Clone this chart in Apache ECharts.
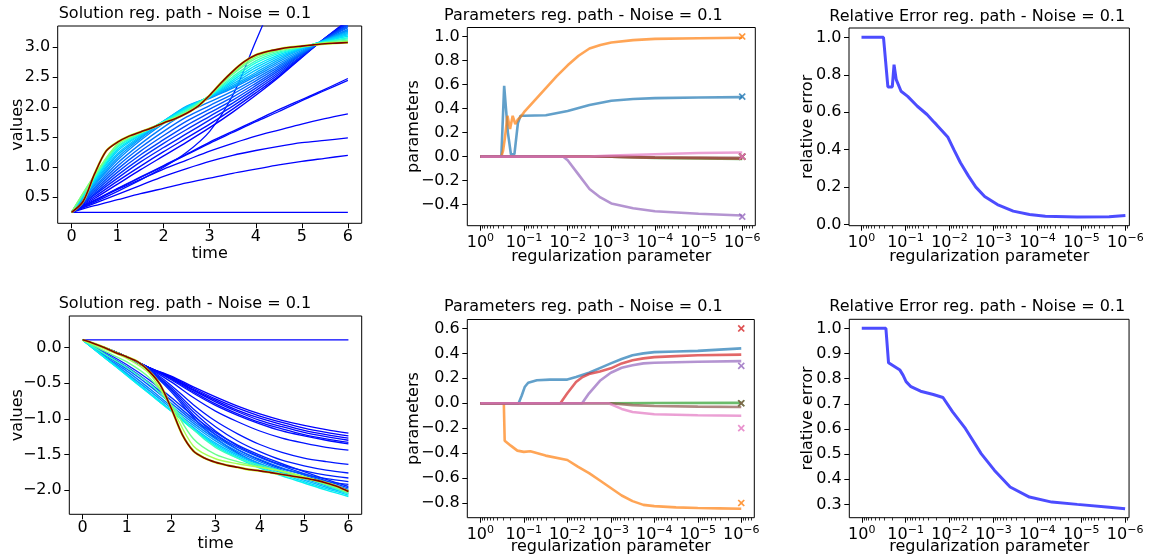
<!DOCTYPE html>
<html>
<head>
<meta charset="utf-8">
<script src="https://cdn.jsdelivr.net/npm/echarts@6/dist/echarts.min.js"></script>
<style>
html,body{margin:0;padding:0;background:#fff;}
#chart{width:1158px;height:558px;}
</style>
</head>
<body>
<div id="chart"></div>
<script>
// ---------------- DATA ----------------
const tHalf = [0,0.5,1,1.5,2,2.5,3,3.5,4,4.5,5,5.5,6];
const tQuarter = [0,0.25,0.5,0.75,1,1.25,1.5,1.75,2,2.25,2.5,2.75,3,3.25,3.5,3.75,4,4.25,4.5,4.75,5,5.25,5.5,5.75,6];
const timeTicks = [0,1,2,3,4,5,6];

// Top-left solution paths
const solTopFinal = [0.25,0.43,0.89,1.27,1.42,1.52,1.59,1.66,1.74,1.81,1.90,2.02,2.20,2.41,2.60,2.76,2.87,2.93,2.97,3.00,3.02,3.04,3.06,3.07,3.08];
const solTopBlue = [
  [0.25,0.25,0.25,0.25,0.25,0.25,0.25,0.25,0.25,0.25,0.25,0.25,0.25],
  [0.25,0.36,0.46,0.56,0.65,0.74,0.82,0.90,0.97,1.04,1.10,1.15,1.20],
  [0.25,0.40,0.55,0.70,0.85,0.98,1.10,1.20,1.28,1.35,1.41,1.45,1.49],
  [0.25,0.44,0.63,0.80,0.97,1.12,1.27,1.40,1.52,1.62,1.72,1.81,1.89],
  [0.25,0.45,0.65,0.84,1.03,1.22,1.42,1.60,1.78,1.96,2.13,2.30,2.48],
  [0.25,0.45,0.64,0.83,1.02,1.21,1.40,1.58,1.76,1.93,2.11,2.28,2.45],
  [0.25,0.42,0.60,0.79,1.00,1.25,1.60,2.20,3.10,4.00]
];
const solTopFan = [
  [0.25,0.48,0.72,0.96,1.19,1.42,1.66,1.92,2.20,2.50,2.83,3.15,3.45],
  [0.25,0.51,0.77,1.02,1.26,1.49,1.72,1.97,2.24,2.52,2.84,3.15,3.43],
  [0.25,0.54,0.82,1.09,1.33,1.56,1.79,2.02,2.28,2.55,2.85,3.15,3.41],
  [0.25,0.56,0.87,1.15,1.40,1.63,1.85,2.07,2.32,2.58,2.86,3.14,3.39],
  [0.25,0.59,0.92,1.21,1.46,1.70,1.91,2.12,2.36,2.61,2.88,3.14,3.37],
  [0.25,0.62,0.97,1.27,1.53,1.77,1.97,2.17,2.40,2.64,2.89,3.13,3.35],
  [0.25,0.65,1.02,1.33,1.60,1.84,2.03,2.22,2.44,2.67,2.90,3.13,3.33],
  [0.25,0.67,1.07,1.39,1.67,1.91,2.09,2.27,2.48,2.70,2.91,3.12,3.30],
  [0.25,0.70,1.12,1.45,1.73,1.98,2.15,2.32,2.52,2.73,2.93,3.12,3.28],
  [0.25,0.72,1.16,1.48,1.75,2.00,2.16,2.34,2.55,2.76,2.95,3.12,3.27],
  [0.25,0.74,1.20,1.50,1.77,2.02,2.17,2.36,2.58,2.79,2.97,3.12,3.25],
  [0.25,0.76,1.23,1.52,1.77,2.01,2.175,2.39,2.62,2.82,2.98,3.11,3.23],
  [0.25,0.78,1.27,1.54,1.77,2.00,2.18,2.42,2.66,2.85,2.99,3.11,3.21],
  [0.25,0.80,1.30,1.55,1.765,1.985,2.185,2.45,2.70,2.875,2.995,3.10,3.185],
  [0.25,0.82,1.33,1.56,1.76,1.97,2.19,2.48,2.74,2.90,3.00,3.09,3.16],
  [0.25,0.84,1.35,1.57,1.755,1.95,2.195,2.51,2.775,2.92,3.005,3.085,3.14],
  [0.25,0.86,1.38,1.58,1.75,1.93,2.20,2.55,2.81,2.94,3.01,3.08,3.12],
  [0.25,0.87,1.39,1.585,1.745,1.92,2.20,2.57,2.84,2.955,3.015,3.07,3.10]
];
const solTopYTicks = [0.5,1.0,1.5,2.0,2.5,3.0];

// Bottom-left solution paths
const solBotFinal = [0.11,0.06,0.0,-0.07,-0.13,-0.20,-0.33,-0.52,-0.85,-1.22,-1.45,-1.55,-1.61,-1.65,-1.68,-1.71,-1.73,-1.755,-1.78,-1.805,-1.83,-1.86,-1.90,-1.95,-2.02];
const solBotBlue = [
  [0.11,0.11,0.11,0.11,0.11,0.11,0.11,0.11,0.11,0.11,0.11,0.11,0.11],
  [0.11,0.0,-0.13,-0.28,-0.40,-0.55,-0.69,-0.82,-0.93,-1.02,-1.09,-1.15,-1.20],
  [0.11,0.0,-0.13,-0.28,-0.41,-0.57,-0.72,-0.85,-0.96,-1.05,-1.13,-1.19,-1.24],
  [0.11,0.0,-0.13,-0.28,-0.42,-0.59,-0.74,-0.88,-0.99,-1.08,-1.16,-1.22,-1.27],
  [0.11,0.0,-0.13,-0.28,-0.43,-0.60,-0.76,-0.90,-1.02,-1.11,-1.19,-1.25,-1.30],
  [0.11,0.0,-0.13,-0.28,-0.44,-0.62,-0.79,-0.93,-1.05,-1.14,-1.22,-1.28,-1.33],
  [0.11,0.0,-0.13,-0.28,-0.45,-0.64,-0.81,-0.95,-1.07,-1.17,-1.24,-1.30,-1.35],
  [0.11,0.0,-0.13,-0.29,-0.48,-0.70,-0.89,-1.04,-1.17,-1.27,-1.34,-1.40,-1.44],
  [0.11,0.0,-0.13,-0.30,-0.53,-0.80,-1.03,-1.21,-1.36,-1.47,-1.55,-1.60,-1.64],
  [0.11,0.0,-0.13,-0.31,-0.56,-0.86,-1.11,-1.31,-1.46,-1.58,-1.66,-1.72,-1.76],
  [0.11,0.0,-0.13,-0.31,-0.58,-0.90,-1.17,-1.38,-1.53,-1.65,-1.73,-1.79,-1.83],
  [0.11,0.0,-0.13,-0.32,-0.60,-0.94,-1.22,-1.43,-1.58,-1.70,-1.78,-1.84,-1.88],
  [0.11,0.0,-0.13,-0.32,-0.62,-0.98,-1.27,-1.48,-1.63,-1.74,-1.82,-1.88,-1.92]
];
const solBotFan = [
  [0.11,-0.06,-0.24,-0.45,-0.70,-0.96,-1.19,-1.37,-1.51,-1.63,-1.74,-1.85,-1.95],
  [0.11,-0.08,-0.27,-0.49,-0.74,-1.00,-1.22,-1.40,-1.54,-1.66,-1.77,-1.87,-1.97],
  [0.11,-0.10,-0.30,-0.53,-0.78,-1.03,-1.25,-1.43,-1.57,-1.69,-1.79,-1.89,-1.99],
  [0.11,-0.12,-0.33,-0.57,-0.82,-1.06,-1.28,-1.46,-1.60,-1.72,-1.82,-1.92,-2.01],
  [0.11,-0.13,-0.36,-0.60,-0.85,-1.09,-1.31,-1.49,-1.63,-1.74,-1.84,-1.94,-2.03],
  [0.11,-0.14,-0.38,-0.63,-0.88,-1.12,-1.34,-1.51,-1.65,-1.76,-1.86,-1.96,-2.05],
  [0.11,-0.14,-0.39,-0.64,-0.89,-1.14,-1.36,-1.53,-1.67,-1.78,-1.88,-1.98,-2.07],
  [0.11,-0.14,-0.39,-0.64,-0.89,-1.15,-1.38,-1.55,-1.69,-1.80,-1.90,-2.00,-2.09],
  [0.11,-0.09,-0.28,-0.50,-0.80,-1.15,-1.40,-1.55,-1.65,-1.73,-1.82,-1.93,-2.05],
  [0.11,-0.05,-0.20,-0.42,-0.80,-1.28,-1.50,-1.60,-1.67,-1.74,-1.82,-1.92,-2.03],
  [0.11,-0.02,-0.15,-0.36,-0.83,-1.38,-1.56,-1.63,-1.68,-1.735,-1.81,-1.90,-2.01]
];
const solBotYTicks = [-2.0,-1.5,-1.0,-0.5,0.0];

// Regularization parameter axis (log10 of lambda)
const regTicks = [0,-1,-2,-3,-4,-5,-6];

// Parameter paths, top: [log10(lambda), value]
const parTopBlue   = [[0,0],[-0.48,0],[-0.545,0.59],[-0.63,0.2],[-0.7,0.02],[-0.78,0.02],[-0.86,0.28],[-0.92,0.34],[-1.0,0.34],[-1.5,0.345],[-2.0,0.38],[-2.5,0.43],[-3.0,0.465],[-3.5,0.48],[-4.0,0.487],[-5.0,0.492],[-6.0,0.495]];
const parTopOrange = [[0,0],[-0.48,0],[-0.52,0.05],[-0.56,0.15],[-0.62,0.34],[-0.68,0.23],[-0.74,0.34],[-0.8,0.27],[-0.86,0.31],[-0.92,0.33],[-1.0,0.37],[-1.25,0.47],[-1.5,0.57],[-1.75,0.67],[-2.0,0.76],[-2.25,0.84],[-2.5,0.9],[-2.75,0.93],[-3.0,0.95],[-3.5,0.97],[-4.0,0.98],[-5.0,0.985],[-6.0,0.99]];
const parTopGreen  = [[0,0],[-3,0],[-4,-0.01],[-6,-0.02]];
const parTopRed    = [[0,0],[-3,0],[-4,-0.008],[-6,-0.015]];
const parTopPurple = [[0,0],[-1.9,0],[-2.0,-0.03],[-2.25,-0.15],[-2.5,-0.27],[-2.75,-0.34],[-3.0,-0.39],[-3.5,-0.43],[-4.0,-0.455],[-5.0,-0.475],[-6.0,-0.49]];
const parTopBrown  = [[0,0],[-3,0],[-4,-0.006],[-6,-0.01]];
const parTopPink   = [[0,0],[-2.5,0],[-3,0.008],[-4,0.02],[-5,0.03],[-6,0.035]];
const parTopTrue   = [0.5,1.0,0.0,0.0,-0.5,0.0,0.0];
const parTopYTicks = [-0.4,-0.2,0.0,0.2,0.4,0.6,0.8,1.0];

// Parameter paths, bottom
const parBotBlue   = [[0,0],[-0.88,0],[-0.95,0.06],[-1.02,0.13],[-1.1,0.165],[-1.3,0.185],[-1.6,0.19],[-2.0,0.19],[-2.2,0.21],[-2.5,0.245],[-2.8,0.29],[-3.0,0.32],[-3.25,0.355],[-3.5,0.385],[-3.75,0.40],[-4.0,0.41],[-4.5,0.415],[-5.0,0.42],[-5.5,0.43],[-6.0,0.44]];
const parBotOrange = [[0,0],[-0.54,0],[-0.56,-0.3],[-0.7,-0.34],[-0.85,-0.38],[-1.0,-0.39],[-1.15,-0.385],[-1.5,-0.42],[-2.0,-0.455],[-2.25,-0.51],[-2.5,-0.56],[-2.75,-0.62],[-3.0,-0.68],[-3.25,-0.74],[-3.5,-0.785],[-3.75,-0.815],[-4.0,-0.825],[-4.5,-0.835],[-5.0,-0.84],[-5.5,-0.843],[-6.0,-0.846]];
const parBotGreen  = [[0,0],[-3,0],[-4,0.002],[-6,0.003]];
const parBotRed    = [[0,0],[-1.84,0],[-2.0,0.08],[-2.2,0.17],[-2.35,0.21],[-2.5,0.235],[-2.75,0.255],[-3.0,0.28],[-3.25,0.32],[-3.5,0.345],[-3.75,0.36],[-4.0,0.37],[-4.5,0.378],[-5.0,0.385],[-6.0,0.39]];
const parBotPurple = [[0,0],[-2.34,0],[-2.5,0.08],[-2.75,0.18],[-3.0,0.245],[-3.25,0.285],[-3.5,0.305],[-3.75,0.32],[-4.0,0.325],[-5.0,0.333],[-6.0,0.338]];
const parBotBrown  = [[0,0],[-3,0],[-3.5,-0.015],[-4,-0.022],[-5,-0.027],[-6,-0.03]];
const parBotPink   = [[0,0],[-2.95,0],[-3.25,-0.045],[-3.5,-0.07],[-4,-0.088],[-5,-0.096],[-6,-0.1]];
const parBotTrue   = [null,-0.8,0.0,0.6,0.3,0.0,-0.2];
const parBotYTicks = [-0.8,-0.6,-0.4,-0.2,0.0,0.2,0.4,0.6];

// Relative error paths
const errTop = [[0,1.0],[-0.5,1.0],[-0.6,0.735],[-0.7,0.735],[-0.74,0.854],[-0.79,0.774],[-0.9,0.712],[-1.05,0.685],[-1.27,0.632],[-1.49,0.588],[-1.63,0.552],[-1.7,0.535],[-1.96,0.468],[-2.1,0.40],[-2.25,0.33],[-2.43,0.26],[-2.6,0.20],[-2.8,0.15],[-3.09,0.107],[-3.45,0.072],[-3.82,0.054],[-4.18,0.045],[-4.9,0.04],[-5.63,0.042],[-6.0,0.049]];
const errTopYTicks = [0.0,0.2,0.4,0.6,0.8,1.0];
const errBot = [[0,1.0],[-0.55,1.0],[-0.61,0.863],[-0.87,0.834],[-0.94,0.814],[-1.01,0.788],[-1.12,0.768],[-1.34,0.75],[-1.63,0.737],[-1.85,0.725],[-2.07,0.668],[-2.36,0.602],[-2.72,0.502],[-3.02,0.436],[-3.38,0.369],[-3.82,0.329],[-4.33,0.309],[-4.91,0.30],[-5.64,0.289],[-6.0,0.283]];
const errBotYTicks = [0.3,0.4,0.5,0.6,0.7,0.8,0.9,1.0];

const titleSol = 'Solution reg. path - Noise = 0.1';
const titlePar = 'Parameters reg. path - Noise = 0.1';
const titleErr = 'Relative Error reg. path - Noise = 0.1';

// ---------------- STYLE / LAYOUT ----------------
const FONT = 'DejaVu Sans';
const FS = 16;
const TXT = '#000';
const tab = ['#1f77b4','#ff7f0e','#2ca02c','#d62728','#9467bd','#8c564b','#e377c2'];

function jet(x){
  const f = pts => { for (let i=0;i<pts.length-1;i++){ const [x0,y0]=pts[i],[x1,y1]=pts[i+1]; if (x<=x1) return y0+(y1-y0)*(x-x0)/(x1-x0);} return pts[pts.length-1][1]; };
  const r=f([[0,0],[0.35,0],[0.66,1],[0.89,1],[1,0.5]]);
  const g=f([[0,0],[0.125,0],[0.375,1],[0.64,1],[0.91,0],[1,0]]);
  const b=f([[0,0.5],[0.11,1],[0.34,1],[0.65,0],[1,0]]);
  return 'rgb('+Math.round(r*255)+','+Math.round(g*255)+','+Math.round(b*255)+')';
}
const fmtNum = (d) => v => { const s = Math.abs(v).toFixed(d); return (v < -1e-9 ? '\u2212' : '') + s; };

const grids = [
  {left:57.7, top:26,    width:304,   height:197.3},
  {left:467.3,top:27.5,  width:288,   height:198.2},
  {left:849,  top:28,    width:292,   height:197.7},
  {left:69.3, top:316,   width:292.4, height:198.3},
  {left:467.3,top:319.5, width:287,   height:198.2},
  {left:849.3,top:319.3, width:291.7, height:198.4}
];
const gridOpts = grids.map(g => Object.assign({show:true, borderColor:'#000', borderWidth:1, backgroundColor:'transparent', containLabel:false}, g));

const baseTick = {show:true, length:5, lineStyle:{color:'#000', width:1}};
const baseLabel = {color:TXT, fontFamily:FONT, fontSize:FS};
const noLine = {show:false, onZero:false};
const nameStyle = {fontFamily:FONT, fontSize:FS, color:TXT};

function timeAxis(gi, gap){
  return {type:'value', gridIndex:gi, position:'bottom', min:-0.3, max:6.3,
    axisLine:noLine, splitLine:{show:false},
    axisTick:Object.assign({customValues:timeTicks}, baseTick),
    axisLabel:Object.assign({customValues:timeTicks, margin:6, formatter:v=>String(Math.round(v))}, baseLabel),
    name:'time', nameLocation:'middle', nameGap:gap, nameMoveOverlap:false, nameTextStyle:nameStyle};
}
const regRange = {min:-6.3, max:0.3};
function regAxis(gi, gap, range){
  return {type:'value', gridIndex:gi, position:'bottom', min:range.min, max:range.max, inverse:true,
    axisLine:noLine, splitLine:{show:false},
    axisTick:Object.assign({customValues:regTicks}, baseTick),
    axisLabel:Object.assign({customValues:regTicks, margin:7,
      formatter:v=>{ const k=Math.round(v); return '{b|10}{s|'+(k===0?'0':'\u2212'+Math.abs(k))+'}'; },
      rich:{b:{fontFamily:FONT,fontSize:FS,color:TXT}, s:{fontFamily:FONT,fontSize:11,color:TXT,padding:[0,0,9,0]}}}, baseLabel),
    name:'regularization parameter', nameLocation:'middle', nameGap:gap, nameMoveOverlap:false, nameTextStyle:nameStyle};
}
function minorVals(range){
  const out=[];
  for (let j=1;j>=-7;j--) for (let k=2;k<=9;k++){ const e=j-1+Math.log10(k); if (e>range.min && e<range.max) out.push(e); }
  return out;
}
function regMinorAxis(gi, range){
  return {type:'value', gridIndex:gi, position:'bottom', offset:0, min:range.min, max:range.max, inverse:true,
    axisLine:noLine, splitLine:{show:false}, axisLabel:{show:false},
    axisTick:{show:true, length:2.8, customValues:minorVals(range), lineStyle:{color:'#000', width:0.8}}};
}
function yAxis(gi, min, max, ticks, dec, name, gap){
  return {type:'value', gridIndex:gi, position:'left', min:min, max:max,
    axisLine:noLine, splitLine:{show:false},
    axisTick:Object.assign({customValues:ticks}, baseTick),
    axisLabel:Object.assign({customValues:ticks, margin:7.5, formatter:fmtNum(dec)}, baseLabel),
    name:name, nameLocation:'middle', nameGap:gap, nameRotate:90, nameMoveOverlap:false, nameTextStyle:nameStyle};
}

const errRange = {min:-6.09, max:0.284};

const xAxes = [
  timeAxis(0, 22.8),
  regAxis(1, 23, regRange),
  regAxis(2, 23, errRange),
  timeAxis(3, 21.8),
  regAxis(4, 21.3, regRange),
  regAxis(5, 21, errRange),
  regMinorAxis(1, regRange),
  regMinorAxis(2, errRange),
  regMinorAxis(4, regRange),
  regMinorAxis(5, errRange)
];
const yAxes = [
  yAxis(0, 0.067, 3.355, solTopYTicks, 1, 'values', 31.5),
  yAxis(1, -0.575, 1.075, parTopYTicks, 1, 'parameters', 45.5),
  yAxis(2, -0.006, 1.05, errTopYTicks, 1, 'relative error', 33),
  yAxis(3, -2.34, 0.445, solBotYTicks, 1, 'values', 43),
  yAxis(4, -0.918, 0.672, parBotYTicks, 1, 'parameters', 45.5),
  yAxis(5, 0.247, 1.036, errBotYTicks, 1, 'relative error', 33)
];

const series = [];
function solLine(ax, times, vals, color, width){
  series.push({type:'line', xAxisIndex:ax, yAxisIndex:ax, silent:true, animation:false,
    showSymbol:false, smooth:0.3, clip:true,
    lineStyle:{color:color, width:width},
    data: vals.map((v,i)=>[times[i], v])});
}
// top-left
solTopBlue.forEach((arr,i)=> solLine(0, tHalf, arr, jet(0.115+0.004*i), 1.3));
solTopFan.forEach((arr,i,a)=>{
  const s = i/(a.length-1);
  const c = s<=0.8 ? 0.12 + 0.3*s : 0.36 + (s-0.8)*0.7;
  solLine(0, tHalf, arr, jet(c), 1.4);
});
solLine(0, tQuarter, solTopFinal, jet(0.6), 2.4);
solLine(0, tQuarter, solTopFinal, jet(1.0), 1.6);
// bottom-left
solBotBlue.forEach((arr,i)=> solLine(3, tHalf, arr, jet(0.115+0.004*i), 1.3));
const botFanColors=[0.16,0.19,0.22,0.25,0.28,0.31,0.34,0.36,0.42,0.48,0.55];
solBotFan.forEach((arr,i)=> solLine(3, tHalf, arr, jet(botFanColors[i]), 1.4));
solLine(3, tQuarter, solBotFinal, jet(0.6), 2.4);
solLine(3, tQuarter, solBotFinal, jet(1.0), 1.6);

function parLines(ax, list, trueVals){
  list.forEach((d,i)=>{
    series.push({type:'line', xAxisIndex:ax, yAxisIndex:ax, silent:true, animation:false, showSymbol:false,
      lineStyle:{color:tab[i], width:2.6, opacity:0.7}, data:d});
  });
  const X = 'path://M4,0H6V4H10V6H6V10H4V6H0V4H4Z';
  trueVals.forEach((v,i)=>{
    if (v === null) return;
    series.push({type:'scatter', xAxisIndex:ax, yAxisIndex:ax, silent:true, animation:false,
      symbol:X, symbolSize:8.5, symbolRotate:45, itemStyle:{color:tab[i]}, data:[[regTicks[6], v]], z:3});
  });
}
parLines(1, [parTopBlue,parTopOrange,parTopGreen,parTopRed,parTopPurple,parTopBrown,parTopPink], parTopTrue);
parLines(4, [parBotBlue,parBotOrange,parBotGreen,parBotRed,parBotPurple,parBotBrown,parBotPink], parBotTrue);

function errLine(ax, d){
  series.push({type:'line', xAxisIndex:ax, yAxisIndex:ax, silent:true, animation:false, showSymbol:false,
    lineStyle:{color:'#0000ff', width:3, opacity:0.7}, data:d});
}
errLine(2, errTop);
errLine(5, errBot);

const titles = [
  {text:titleSol, left:58.7, top:5.5},
  {text:titlePar, left:444,  top:8.2},
  {text:titleErr, left:829.3,top:8.9},
  {text:titleSol, left:58.7, top:295.5},
  {text:titlePar, left:444,  top:298.9},
  {text:titleErr, left:829.3,top:298.9}
].map(t=>Object.assign({padding:0, textStyle:{fontFamily:FONT, fontSize:FS, fontWeight:'normal', color:TXT}}, t));

const chart = echarts.init(document.getElementById('chart'), null, {renderer:'canvas'});
chart.setOption({
  animation:false,
  backgroundColor:'#fff',
  textStyle:{fontFamily:FONT},
  title:titles,
  grid:gridOpts,
  xAxis:xAxes,
  yAxis:yAxes,
  series:series
});
</script>
</body>
</html>
